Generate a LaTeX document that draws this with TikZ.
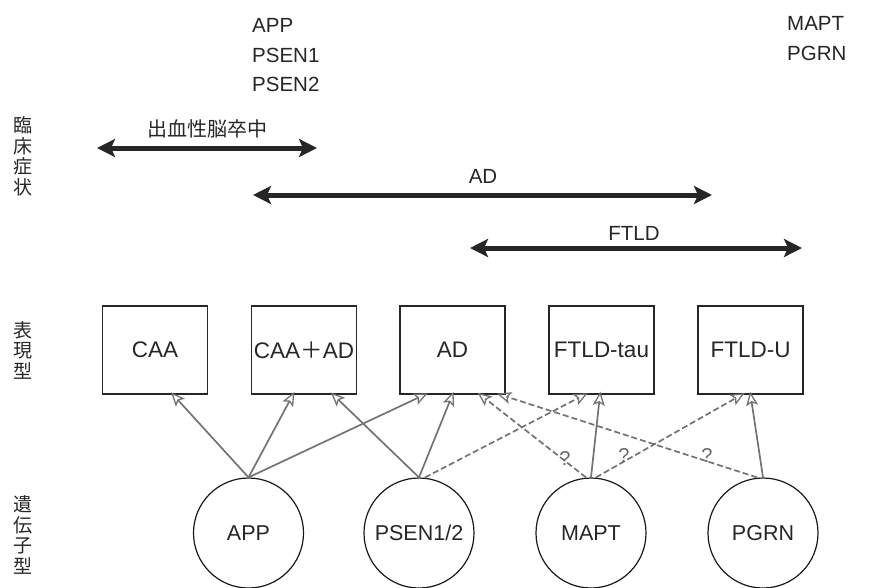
\documentclass[tikz,border=0pt]{standalone}
\usepackage{fontspec}
\setmainfont{Liberation Sans}
\newfontfamily\cjk{Noto Sans CJK JP}
\usetikzlibrary{arrows.meta,calc}
\begin{document}
\begin{tikzpicture}[x=1pt,y=-1pt,
  pheno/.style={draw=black!85, line width=1.1pt, minimum width=105pt, minimum height=88pt,
    inner sep=0pt, font=\fontsize{22.5}{26}\selectfont, text=black!85},
  gene/.style={circle, draw=black!90, line width=1.2pt, minimum size=110pt, inner sep=0pt,
    font=\fontsize{21.5}{25}\selectfont, text=black!85},
  link/.style={draw=black!55, line width=1.7pt, shorten >=-3pt,
    -{Stealth[open,length=14pt,width=12pt,inset=3pt,line width=1.3pt]}},
  dlink/.style={link, dash pattern=on 6pt off 3pt},
  spanarrow/.style={line width=5pt, draw=black!85,
    {Stealth[length=18pt,width=18pt,inset=4pt]}-{Stealth[length=18pt,width=18pt,inset=4pt]}},
  toplabel/.style={anchor=base west, inner sep=0pt, font=\fontsize{20.5}{24}\selectfont, text=black!85},
  spanlabel/.style={inner sep=0pt, font=\fontsize{20.5}{24}\selectfont, text=black!85},
  vlabel/.style={inner sep=0pt, align=center, font=\cjk\fontsize{19}{20.5}\selectfont, text=black!85},
  qm/.style={inner sep=0pt, font=\fontsize{20}{22}\selectfont, text=black!60}
]
\useasboundingbox (0,0) rectangle (882,587);

% side labels
\node[vlabel] (v1) at (23,156) {臨\\床\\症\\状};
\node[vlabel] (v2) at (23,350) {表\\現\\型};
\node[vlabel] (v3) at (23,535) {遺\\伝\\子\\型};

% top gene lists
\node[toplabel] (t1) at (252,32) {APP};
\node[toplabel] (t2) at (252,62) {PSEN1};
\node[toplabel] (t3) at (252,91) {PSEN2};
\node[toplabel] (t4) at (787,30) {MAPT};
\node[toplabel] (t5) at (787,60) {PGRN};

% clinical spans
\coordinate (s1l) at (97,148);
\coordinate (s1r) at (317,148);
\coordinate (s2l) at (253,195);
\coordinate (s2r) at (712,195);
\coordinate (s3l) at (470,248);
\coordinate (s3r) at (802,248);
\draw[spanarrow] (s1l) -- (s1r);
\draw[spanarrow] (s2l) -- (s2r);
\draw[spanarrow] (s3l) -- (s3r);
\node[spanlabel, font=\cjk\fontsize{20}{24}\selectfont] (l1) at (207,129) {出血性脳卒中};
\node[spanlabel, anchor=base] (l2) at (483,183) {AD};
\node[spanlabel, anchor=base] (l3) at (634,240) {FTLD};

% phenotypes
\node[pheno] (caa) at (155,350) {CAA};
\node[pheno] (caaad) at (304,350) {CAA{\cjk ＋}AD};
\node[pheno] (ad) at (452.5,350) {AD};
\node[pheno] (tau) at (601.5,350) {FTLD-tau};
\node[pheno] (u) at (750.5,350) {FTLD-U};

% genotypes
\node[gene] (app) at (248.5,533) {APP};
\node[gene] (psen) at (419,533) {PSEN1/2};
\node[gene] (mapt) at (591,533) {MAPT};
\node[gene] (pgrn) at (763,533) {PGRN};

% solid links
\draw[link] (app.north) -- ([xshift=18pt]caa.south);
\draw[link] (app.north) -- ([xshift=-11pt]caaad.south);
\draw[link] (app.north) -- ([xshift=-27.5pt]ad.south);
\draw[link] (psen.north) -- ([xshift=29pt]caaad.south);
\draw[link] (psen.north) -- (ad.south);
\draw[link] (mapt.north) -- ([xshift=-1.5pt]tau.south);
\draw[link] (pgrn.north) -- (u.south);

% dashed links
\draw[dlink] ([xshift=6pt]psen.north) -- ([xshift=-16.5pt]tau.south);
\draw[dlink] ([xshift=-5pt]mapt.north) -- ([xshift=27.5pt]ad.south);
\draw[dlink] ([xshift=5pt]mapt.north) -- ([xshift=-8.5pt]u.south);
\draw[dlink] ([xshift=-6pt]pgrn.north) -- ([xshift=47.5pt]ad.south);

% question marks
\node[qm] (q1) at (565,459) {?};
\node[qm] (q2) at (624,456) {?};
\node[qm] (q3) at (707,456) {?};
\end{tikzpicture}
\end{document}
